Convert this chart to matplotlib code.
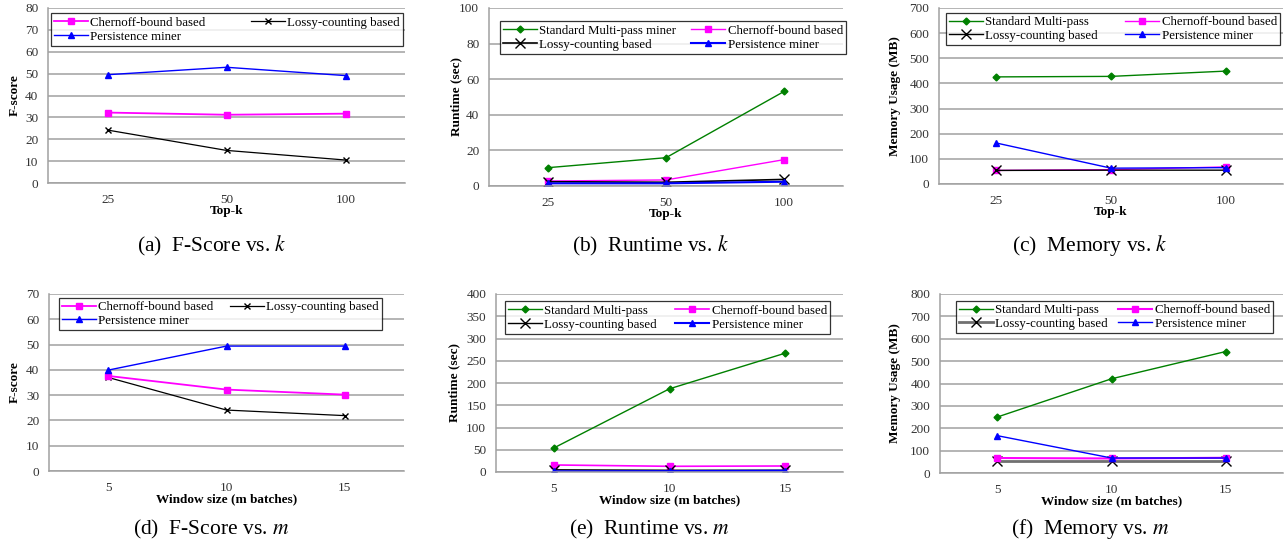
import matplotlib.pyplot as plt
import numpy as np

plt.rcParams["font.family"] = ["Liberation Serif", "DejaVu Serif"]
plt.rcParams["mathtext.fontset"] = "stix"

W, H = 1288, 543

TOPK_LABELS = ["25", "50", "100"]
WINDOW_LABELS = ["5", "10", "15"]

# (a) F-score vs k
fk_chernoff = [32.2, 31.2, 31.7]
fk_lossy = [24.2, 14.9, 10.5]
fk_persist = [49.5, 52.9, 49.1]

# (b) runtime vs k
rk_multipass = [10.3, 15.9, 53.1]
rk_chernoff = [2.8, 3.4, 14.8]
rk_lossy = [2.4, 2.1, 3.7]
rk_persist = [1.5, 1.5, 2.4]

# (c) memory vs k
mk_multipass = [426, 428, 449]
mk_chernoff = [54, 57, 68]
mk_lossy = [54, 55, 55]
mk_persist = [163, 63, 65]

# (d) F-score vs m
fm_chernoff = [37.6, 32.2, 30.2]
fm_lossy = [37.0, 24.1, 21.9]
fm_persist = [39.9, 49.4, 49.4]

# (e) runtime vs m
rm_multipass = [54, 187, 267]
rm_chernoff = [15.8, 12.8, 13.5]
rm_lossy = [5, 4, 4]
rm_persist = [1.5, 2, 3]

# (f) memory vs m
mm_multipass = [250, 421, 543]
mm_chernoff = [67, 65, 68]
mm_lossy = [55, 55, 55]
mm_persist = [167, 67, 67]

GREEN = "#008000"
MAGENTA = "#ff00ff"
BLUE = "#0000ff"
GRID = "#a0a0a0"


def px_axes(fig, left, right, top, bottom):
    return fig.add_axes([left / W, (H - bottom) / H, (right - left) / W, (bottom - top) / H])


def style_axes(ax, ymax, ystep, labels, ylabel, ylabel_off, xlabel):
    ax.set_xlim(-0.5, 2.5)
    ax.set_ylim(0, ymax)
    ax.set_yticks(np.arange(0, ymax + 1, ystep))
    ax.set_xticks(range(3))
    ax.set_xticklabels(labels)
    ax.yaxis.grid(True, color=GRID, linewidth=1.1)
    ax.set_axisbelow(True)
    for s in ["top", "right"]:
        ax.spines[s].set_visible(False)
    for s in ["left", "bottom"]:
        ax.spines[s].set_color(GRID)
        ax.spines[s].set_linewidth(1.1)
    ax.tick_params(axis="both", length=0, labelsize=9.5, colors="#333333")
    ax.tick_params(axis="x", pad=8)
    ax.tick_params(axis="y", pad=7)
    bbox = ax.get_position()
    h_px = bbox.height * H
    w_px = bbox.width * W
    ax.text(0.5, -28 / h_px, xlabel, transform=ax.transAxes, ha="center", va="center",
            fontsize=9.5, fontweight="bold")
    ax.text(-ylabel_off / w_px, 0.5, ylabel, transform=ax.transAxes, ha="center", va="center",
            rotation=90, fontsize=9.5, fontweight="bold")


def add_legend(ax, fig, handles, labels, left, right, top, bottom):
    leg = ax.legend(handles, labels, ncol=2, mode="expand", loc="center",
                    bbox_to_anchor=(left / W, (H - bottom) / H, (right - left) / W, (bottom - top) / H),
                    bbox_transform=fig.transFigure, fontsize=9.3, frameon=True, fancybox=False,
                    borderaxespad=0, handlelength=2.6, handletextpad=0.2, labelspacing=0.15,
                    borderpad=0.25, columnspacing=1.0)
    leg.get_frame().set_edgecolor("black")
    leg.get_frame().set_linewidth(0.9)
    return leg


fig = plt.figure(figsize=(W / 100, H / 100), dpi=100)
x = np.arange(3)

# (a)
ax = px_axes(fig, 48, 405, 8, 183)
style_axes(ax, 80, 10, TOPK_LABELS, "F-score", 33, "Top-k")
l_lo, = ax.plot(x, fk_lossy, color="black", marker="x", ms=4, mew=1, lw=0.9)
l_ch, = ax.plot(x, fk_chernoff, color=MAGENTA, marker="s", ms=5, lw=1.3)
l_pe, = ax.plot(x, fk_persist, color=BLUE, marker="^", ms=5, lw=1)
add_legend(ax, fig, [l_ch, l_pe, l_lo],
           ["Chernoff-bound based", "Persistence miner", "Lossy-counting based"], 51, 403, 13, 46)

# (b)
ax = px_axes(fig, 489, 843, 8, 186)
style_axes(ax, 100, 20, TOPK_LABELS, "Runtime (sec)", 33, "Top-k")
l_mp, = ax.plot(x, rk_multipass, color=GREEN, marker="D", ms=3.5, lw=1)
l_ch, = ax.plot(x, rk_chernoff, color=MAGENTA, marker="s", ms=5, lw=1)
l_lo, = ax.plot(x, rk_lossy, color="black", marker="x", ms=7, mew=1, lw=1.2)
l_pe, = ax.plot(x, rk_persist, color=BLUE, marker="^", ms=5, lw=1.5)
add_legend(ax, fig, [l_mp, l_lo, l_ch, l_pe],
           ["Standard Multi-pass miner", "Lossy-counting based", "Chernoff-bound based", "Persistence miner"],
           500, 846, 21, 54)

# (c)
ax = px_axes(fig, 939, 1283, 8, 184)
style_axes(ax, 700, 100, TOPK_LABELS, "Memory Usage (MB)", 44, "Top-k")
l_mp, = ax.plot(x, mk_multipass, color=GREEN, marker="D", ms=3.5, lw=1)
l_ch, = ax.plot(x, mk_chernoff, color=MAGENTA, marker="s", ms=5, lw=1)
l_lo, = ax.plot(x, mk_lossy, color="black", marker="x", ms=7, mew=1, lw=1)
l_pe, = ax.plot(x, mk_persist, color=BLUE, marker="^", ms=5, lw=1)
add_legend(ax, fig, [l_mp, l_lo, l_ch, l_pe],
           ["Standard Multi-pass", "Lossy-counting based", "Chernoff-bound based", "Persistence miner"],
           946, 1280, 12, 46)

# (d)
ax = px_axes(fig, 49, 404, 294, 471)
style_axes(ax, 70, 10, WINDOW_LABELS, "F-score", 34, "Window size (m batches)")
l_lo, = ax.plot(x, fm_lossy, color="black", marker="x", ms=4, mew=1, lw=0.9)
l_ch, = ax.plot(x, fm_chernoff, color=MAGENTA, marker="s", ms=5, lw=1.3)
l_pe, = ax.plot(x, fm_persist, color=BLUE, marker="^", ms=5, lw=1)
add_legend(ax, fig, [l_ch, l_pe, l_lo],
           ["Chernoff-bound based", "Persistence miner", "Lossy-counting based"], 59, 382, 297, 331)

# (e)
ax = px_axes(fig, 496, 843, 294, 472)
style_axes(ax, 400, 50, WINDOW_LABELS, "Runtime (sec)", 42, "Window size (m batches)")
l_mp, = ax.plot(x, rm_multipass, color=GREEN, marker="D", ms=3.5, lw=1)
l_ch, = ax.plot(x, rm_chernoff, color=MAGENTA, marker="s", ms=5, lw=1.2)
l_lo, = ax.plot(x, rm_lossy, color="black", marker="x", ms=7, mew=1, lw=1)
l_pe, = ax.plot(x, rm_persist, color=BLUE, marker="^", ms=5, lw=1.5)
add_legend(ax, fig, [l_mp, l_lo, l_ch, l_pe],
           ["Standard Multi-pass", "Lossy-counting based", "Chernoff-bound based", "Persistence miner"],
           505, 830, 301, 334)

# (f)
ax = px_axes(fig, 940, 1283, 294, 473)
style_axes(ax, 800, 100, WINDOW_LABELS, "Memory Usage (MB)", 45, "Window size (m batches)")
l_mp, = ax.plot(x, mm_multipass, color=GREEN, marker="D", ms=3.5, lw=1)
l_lo, = ax.plot(x, mm_lossy, color="#707070", marker="x", ms=7, mew=1, mec="black", lw=2)
l_ch, = ax.plot(x, mm_chernoff, color=MAGENTA, marker="s", ms=5, lw=1.5)
l_pe, = ax.plot(x, mm_persist, color=BLUE, marker="^", ms=5, lw=1)
add_legend(ax, fig, [l_mp, l_lo, l_ch, l_pe],
           ["Standard Multi-pass", "Lossy-counting based", "Chernoff-bound based", "Persistence miner"],
           956, 1273, 298, 336)

captions = [
    (212, 246, r"(a)  F-Score vs. $k$"),
    (651, 246, r"(b)  Runtime vs. $k$"),
    (1090, 246, r"(c)  Memory vs. $k$"),
    (211, 529, r"(d)  F-Score vs. $m$"),
    (650, 529, r"(e)  Runtime vs. $m$"),
    (1090, 529, r"(f)  Memory vs. $m$"),
]
for cx, cy, txt in captions:
    fig.text(cx / W, (H - cy) / H, txt, ha="center", va="center", fontsize=15.5)

fig.savefig("out.png", dpi=100)
